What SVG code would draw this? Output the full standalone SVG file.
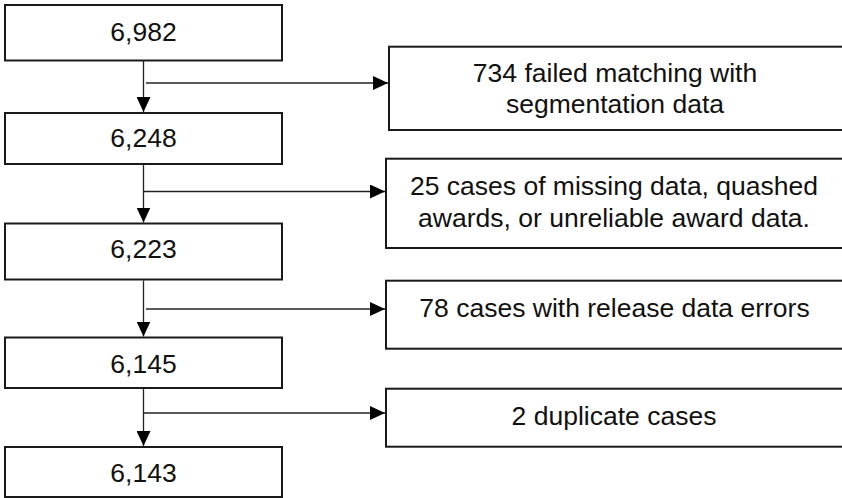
<svg xmlns="http://www.w3.org/2000/svg" width="842" height="498" viewBox="0 0 842 498">
<style>
.box{fill:#fff;stroke:#1a1a1a;stroke-width:2}
.lbl{font-family:"Liberation Sans",Arial,sans-serif;font-size:26.5px;fill:#111;text-anchor:middle}
.con{fill:none;stroke:#222;stroke-width:1.3}
</style>
<defs>
<marker id="ah" markerUnits="userSpaceOnUse" markerWidth="15" markerHeight="14" refX="15" refY="7" orient="auto" viewBox="0 0 15 14">
<path d="M0,0 L15,7 L0,14 z" fill="#000"/>
</marker>
</defs>
<rect width="842" height="498" fill="#fff"/>
<g id="n6982"><rect class="box" x="5" y="5" width="277" height="55.5"/><text class="lbl" x="143.5" y="41">6,982</text></g>
<g id="n6248"><rect class="box" x="5" y="113" width="277" height="51"/><text class="lbl" x="143.5" y="147">6,248</text></g>
<g id="n6223"><rect class="box" x="5" y="223.5" width="277" height="56"/><text class="lbl" x="143.5" y="258">6,223</text></g>
<g id="n6145"><rect class="box" x="5" y="337.5" width="277" height="50.5"/><text class="lbl" x="143.5" y="373">6,145</text></g>
<g id="n6143"><rect class="box" x="5" y="447" width="277" height="50"/><text class="lbl" x="143.5" y="482">6,143</text></g>
<g id="e734"><rect class="box" x="389" y="46.7" width="460" height="83.3"/><text class="lbl" x="615" y="82">734 failed matching with</text><text class="lbl" x="615" y="113">segmentation data</text></g>
<g id="e25"><rect class="box" x="386" y="158.7" width="460" height="89.3"/><text class="lbl" x="614" y="195">25 cases of missing data, quashed</text><text class="lbl" x="614" y="226.5">awards, or unreliable award data.</text></g>
<g id="e78"><rect class="box" x="386" y="280.7" width="460" height="68"/><text class="lbl" x="614.5" y="316.5">78 cases with release data errors</text></g>
<g id="e2"><rect class="box" x="386" y="388.7" width="460" height="58"/><text class="lbl" x="614" y="425">2 duplicate cases</text></g>
<g id="connectors">
<line class="con" x1="143.5" y1="61" x2="143.5" y2="112" marker-end="url(#ah)"/>
<line class="con" x1="143.5" y1="165" x2="143.5" y2="222.5" marker-end="url(#ah)"/>
<line class="con" x1="143.5" y1="280.5" x2="143.5" y2="336.5" marker-end="url(#ah)"/>
<line class="con" x1="143.5" y1="389" x2="143.5" y2="446" marker-end="url(#ah)"/>
<line class="con" x1="146" y1="83" x2="388" y2="83" marker-end="url(#ah)"/>
<line class="con" x1="143.5" y1="191.5" x2="385" y2="191.5" marker-end="url(#ah)"/>
<line class="con" x1="146" y1="309" x2="385" y2="309" marker-end="url(#ah)"/>
<line class="con" x1="143.5" y1="413" x2="385" y2="413" marker-end="url(#ah)"/>
</g>
</svg>
